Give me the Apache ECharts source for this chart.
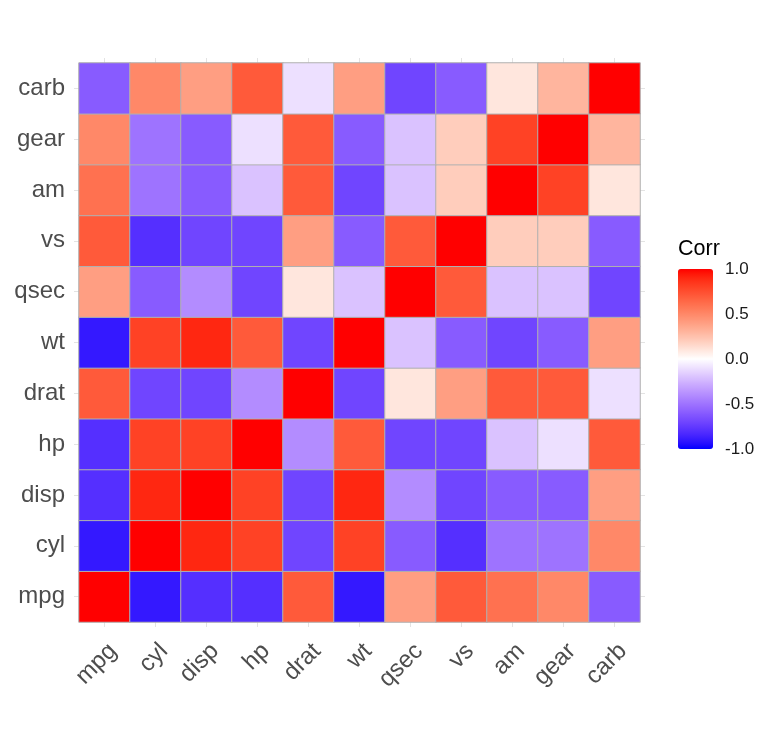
<!DOCTYPE html>
<html>
<head>
<meta charset="utf-8">
<script src="https://cdn.jsdelivr.net/npm/echarts@6/dist/echarts.min.js"></script>
<style>
  html, body { margin: 0; padding: 0; background: #fff; }
  #container { width: 780px; height: 750px; }
</style>
</head>
<body>
<div id="container"></div>
<script>
// variables, in axis order (x: left to right, y: bottom to top)
var vars = ['mpg', 'cyl', 'disp', 'hp', 'drat', 'wt', 'qsec', 'vs', 'am', 'gear', 'carb'];

// correlation rows (rounded to one decimal, as drawn), one per variable
var mpgRow  = [1, -0.9, -0.8, -0.8, 0.7, -0.9, 0.4, 0.7, 0.6, 0.5, -0.6];
var cylRow  = [-0.9, 1, 0.9, 0.8, -0.7, 0.8, -0.6, -0.8, -0.5, -0.5, 0.5];
var dispRow = [-0.8, 0.9, 1, 0.8, -0.7, 0.9, -0.4, -0.7, -0.6, -0.6, 0.4];
var hpRow   = [-0.8, 0.8, 0.8, 1, -0.4, 0.7, -0.7, -0.7, -0.2, -0.1, 0.7];
var dratRow = [0.7, -0.7, -0.7, -0.4, 1, -0.7, 0.1, 0.4, 0.7, 0.7, -0.1];
var wtRow   = [-0.9, 0.8, 0.9, 0.7, -0.7, 1, -0.2, -0.6, -0.7, -0.6, 0.4];
var qsecRow = [0.4, -0.6, -0.4, -0.7, 0.1, -0.2, 1, 0.7, -0.2, -0.2, -0.7];
var vsRow   = [0.7, -0.8, -0.7, -0.7, 0.4, -0.6, 0.7, 1, 0.2, 0.2, -0.6];
var amRow   = [0.6, -0.5, -0.6, -0.2, 0.7, -0.7, -0.2, 0.2, 1, 0.8, 0.1];
var gearRow = [0.5, -0.5, -0.6, -0.1, 0.7, -0.6, -0.2, 0.2, 0.8, 1, 0.3];
var carbRow = [-0.6, 0.5, 0.4, 0.7, -0.1, 0.4, -0.7, -0.6, 0.1, 0.3, 1];

var corrRows = [mpgRow, cylRow, dispRow, hpRow, dratRow, wtRow, qsecRow, vsRow, amRow, gearRow, carbRow];

// legend scale
var legendMin = -1;
var legendMax = 1;
var legendStep = 0.5;

// colour ramp blue - white - red along the Lab line, eased a bit toward the ends
function toLin(c) { c /= 255; return c <= 0.04045 ? c / 12.92 : Math.pow((c + 0.055) / 1.055, 2.4); }
function fromLin(c) {
    c = c <= 0.0031308 ? 12.92 * c : 1.055 * Math.pow(c, 1 / 2.4) - 0.055;
    return Math.round(Math.max(0, Math.min(1, c)) * 255);
}
function rgbToLab(rgb) {
    var r = toLin(rgb[0]), g = toLin(rgb[1]), b = toLin(rgb[2]);
    var x = (0.4124 * r + 0.3576 * g + 0.1805 * b) / 0.95047;
    var y = 0.2126 * r + 0.7152 * g + 0.0722 * b;
    var z = (0.0193 * r + 0.1192 * g + 0.9505 * b) / 1.08883;
    var f = function (t) { return t > 0.008856 ? Math.cbrt(t) : 7.787 * t + 16 / 116; };
    var fx = f(x), fy = f(y), fz = f(z);
    return [116 * fy - 16, 500 * (fx - fy), 200 * (fy - fz)];
}
function labToRgb(lab) {
    var fy = (lab[0] + 16) / 116, fx = fy + lab[1] / 500, fz = fy - lab[2] / 200;
    var inv = function (t) { return t * t * t > 0.008856 ? t * t * t : (t - 16 / 116) / 7.787; };
    var x = inv(fx) * 0.95047, y = inv(fy), z = inv(fz) * 1.08883;
    var r = 3.2406 * x - 1.5372 * y - 0.4986 * z;
    var g = -0.9689 * x + 1.8758 * y + 0.0415 * z;
    var b = 0.0557 * x - 0.2040 * y + 1.0570 * z;
    return 'rgb(' + fromLin(r) + ',' + fromLin(g) + ',' + fromLin(b) + ')';
}
function buildRamp(steps) {
    var lo = rgbToLab([0, 0, 255]), mid = rgbToLab([255, 255, 255]), hi = rgbToLab([255, 0, 0]);
    var out = [];
    for (var i = 0; i <= steps; i++) {
        var t = i / steps * 2 - 1;
        var end = t < 0 ? lo : hi;
        var k = 1 - Math.pow(1 - Math.abs(t), 1.35);
        out.push(labToRgb([
            mid[0] + (end[0] - mid[0]) * k,
            mid[1] + (end[1] - mid[1]) * k,
            mid[2] + (end[2] - mid[2]) * k
        ]));
    }
    return out;
}

// heatmap cells
var cells = [];
corrRows.forEach(function (row, yi) {
    row.forEach(function (v, xi) {
        cells.push([xi, yi, v]);
    });
});

var font = 'Liberation Sans, Arial, Helvetica, sans-serif';
var gridStub = { show: true, alignWithLabel: true, length: 5, lineStyle: { color: '#e3e3e3', width: 1 } };
var whiteTick = { show: true, inside: true, length: 6, lineStyle: { color: '#ffffff', width: 1 } };

var dom = document.getElementById('container');
var myChart = echarts.init(dom, null, { renderer: 'canvas' });

var option = {
    animation: false,
    backgroundColor: '#ffffff',
    textStyle: { fontFamily: font },
    title: {
        text: 'Corr',
        left: 678,
        top: 238,
        padding: 0,
        textStyle: { fontSize: 21.5, fontWeight: 'normal', color: '#000', fontFamily: font }
    },
    grid: [
        { left: 79, top: 63, width: 561, height: 559 },
        { left: 678, top: 269, width: 35, height: 180 }
    ],
    xAxis: [
        {
            type: 'category', data: vars, gridIndex: 0, position: 'bottom',
            axisLine: { show: false },
            axisTick: gridStub,
            axisLabel: { rotate: 45, fontSize: 24, color: '#4d4d4d', margin: 17, verticalAlign: 'top' },
            splitLine: { show: false }
        },
        {
            type: 'category', data: vars, gridIndex: 0, position: 'top',
            axisLine: { show: false }, axisTick: gridStub, axisLabel: { show: false }
        },
        {
            type: 'value', gridIndex: 1, show: false, min: 0, max: 1
        }
    ],
    yAxis: [
        {
            type: 'category', data: vars, gridIndex: 0, position: 'left',
            axisLine: { show: false },
            axisTick: gridStub,
            axisLabel: { fontSize: 24, color: '#4d4d4d', margin: 14 },
            splitLine: { show: false }
        },
        {
            type: 'category', data: vars, gridIndex: 0, position: 'right',
            axisLine: { show: false }, axisTick: gridStub, axisLabel: { show: false }
        },
        {
            type: 'value', gridIndex: 1, position: 'right',
            min: legendMin, max: legendMax, interval: legendStep,
            axisLine: { show: false },
            axisTick: whiteTick,
            axisLabel: {
                fontSize: 17, color: '#1a1a1a', margin: 12,
                formatter: function (v) { return v.toFixed(1); }
            },
            splitLine: { show: false }
        },
        {
            type: 'value', gridIndex: 1, position: 'left',
            min: legendMin, max: legendMax, interval: legendStep,
            axisLine: { show: false },
            axisTick: whiteTick,
            axisLabel: { show: false },
            splitLine: { show: false }
        }
    ],
    visualMap: {
        type: 'continuous',
        min: legendMin,
        max: legendMax,
        dimension: 2,
        seriesIndex: 0,
        calculable: false,
        orient: 'vertical',
        left: 678,
        top: 269,
        padding: 0,
        itemWidth: 35,
        itemHeight: 180,
        text: null,
        showLabel: false,
        inRange: { color: buildRamp(60) },
        z: 1
    },
    series: [
        {
            type: 'heatmap',
            xAxisIndex: 0,
            yAxisIndex: 0,
            data: cells,
            itemStyle: { borderColor: '#b0b0b0', borderWidth: 1 },
            label: { show: false },
            emphasis: { disabled: true }
        }
    ]
};

myChart.setOption(option);
window.addEventListener('resize', myChart.resize);
</script>
</body>
</html>
